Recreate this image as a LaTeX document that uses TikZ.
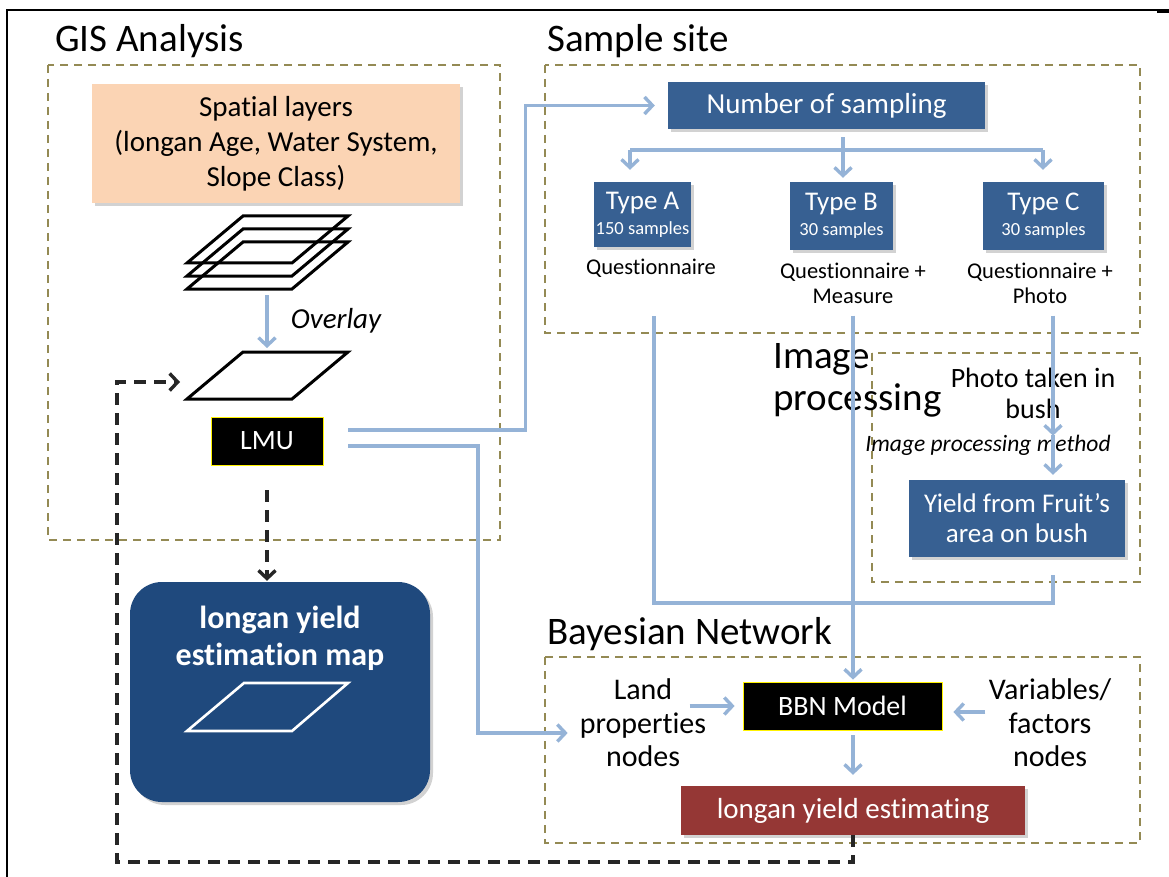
\documentclass[tikz,border=0pt]{standalone}
\usepackage{fontspec}
\setmainfont{Carlito}[Ligatures=NoCommon]
\usetikzlibrary{arrows.meta,shadows,calc}
\definecolor{grpcol}{HTML}{948A54}
\definecolor{lnblue}{HTML}{95B3D7}
\definecolor{boxblue}{HTML}{376092}
\definecolor{mapblue}{HTML}{1F497D}
\definecolor{estred}{HTML}{953735}
\definecolor{peach}{HTML}{FBD4B4}
\definecolor{dkline}{HTML}{262626}
\newcommand{\fs}[2]{\fontsize{#1}{#2}\selectfont}
\begin{document}
\begin{tikzpicture}[x=1pt,y=-1pt,
  grp/.style={draw=grpcol,line width=2pt,dash pattern=on 8pt off 6pt},
  bl/.style={draw=lnblue,line width=3.4pt},
  barb/.style={-{Straight Barb[length=8pt,width=17pt]}},
  dk/.style={draw=dkline,line width=3.4pt,dash pattern=on 12pt off 8pt},
  title/.style={anchor=base west,inner sep=0pt,font=\fs{39}{42}},
  shad/.style={drop shadow={opacity=0.35,shadow xshift=3pt,shadow yshift=-3pt}},
  bbox/.style={fill=boxblue,text=white,inner sep=0pt,align=center,shad},
  plain/.style={inner sep=0pt,align=center},
  para/.style={line width=3pt,line join=miter}
]
\useasboundingbox (0,0) rectangle (1169,877);
\fill[white] (0,0) rectangle (1169,877);

% frame
\draw[line width=1.8pt] (7,877) -- (7,10) -- (1157,10);
\draw[line width=3.4pt] (1157,11) -- (1169,11);

% group boxes
\draw[grp] (48,65) rectangle (500,540);
\draw[grp] (545,65) rectangle (1140,333);
\draw[grp] (872,353) rectangle (1140,582);
\draw[grp] (545,657) rectangle (1140,843);

% titles
\node[title] (tgis) at (55,52) {GIS Analysis};
\node[title] (tss) at (547,52) {Sample site};
\node[title,align=left,anchor=north west] (tip) at (773,343) {Image\\processing};
\node[title] (tbn) at (547,644) {Bayesian Network};

% GIS analysis
\node[fill=peach,minimum width=368pt,minimum height=119pt,plain,shad,font=\fs{29}{35}] (spatial) at (276,143.5)
  {Spatial layers\\(longan Age, Water System,\\Slope Class)};
\foreach \yb in {263,276,289}
  \draw[para] (187,\yb) -- (292,\yb) -- (348,\yb-47) -- (243,\yb-47) -- cycle;
\coordinate (layers) at (267,295);
\draw[para] (187,399) -- (292,399) -- (348,352) -- (243,352) -- cycle;
\coordinate (ovtop) at (267,352);
\coordinate (ovin) at (180,382);
\node[plain,font=\itshape\fs{29}{32}] (overlay) at (336,321) {Overlay};
\node[fill=black,draw=yellow,line width=0.8pt,text=white,minimum width=112pt,minimum height=48pt,inner sep=0pt,font=\fs{28}{30}] (lmu) at (267,441) {LMU};

% map
\node[fill=mapblue,rounded corners=32pt,minimum width=300pt,minimum height=220pt,inner sep=0pt,shad] (map) at (280,692) {};
\node[plain,text=white,font=\bfseries\fs{32}{37}] (maptxt) at (280,638) {longan yield\\estimation map};
\draw[white,line width=2.6pt] (187,731) -- (292,731) -- (348,683) -- (244,683) -- cycle;

% sample site
\node[bbox,minimum width=317pt,minimum height=47pt,font=\fs{29}{32}] (nsamp) at (826.5,105.5) {Number of sampling};
\node[bbox,minimum width=97pt,minimum height=65pt,font=\fs{18.5}{25}] (typeA) at (642.5,214.5) {{\fs{27}{25}Type A}\\150 samples};
\node[bbox,minimum width=103pt,minimum height=68pt,font=\fs{18.5}{25}] (typeB) at (841.5,216) {{\fs{27}{25}Type B}\\30 samples};
\node[bbox,minimum width=121pt,minimum height=68pt,font=\fs{18.5}{25}] (typeC) at (1043.5,216) {{\fs{27}{25}Type C}\\30 samples};
\node[plain,font=\fs{22.5}{25}] (qA) at (651,268) {Questionnaire};
\node[plain,font=\fs{22.5}{25}] (qB) at (853,283) {Questionnaire +\\Measure};
\node[plain,font=\fs{22.5}{25}] (qC) at (1040,283) {Questionnaire +\\Photo};

% image processing
\node[plain,font=\fs{28}{31}] (photo) at (1033,393) {Photo taken in\\bush};
\node[plain,font=\itshape\fs{23.5}{26}] (ipm) at (988,445) {Image processing method};
\node[bbox,minimum width=216pt,minimum height=77pt,font=\fs{27}{30}] (yield) at (1017,518.5) {Yield from Fruit’s\\area on bush};

% bayesian network
\node[plain,font=\fs{30}{33.5}] (land) at (643,723) {Land\\properties\\nodes};
\node[plain,font=\fs{30}{33.5}] (var) at (1050,723) {Variables/\\factors\\nodes};
\node[fill=black,draw=yellow,line width=0.8pt,text=white,minimum width=199pt,minimum height=48pt,inner sep=0pt,font=\fs{28}{30}] (bbn) at (842.5,706) {BBN Model};
\node[fill=estred,text=white,minimum width=344pt,minimum height=49pt,inner sep=0pt,shad,font=\fs{29}{32}] (est) at (853,810.5) {longan yield estimating};

% connectors (blue)
\draw[bl,barb] (layers) -- ([yshift=4pt]ovtop);
\draw[bl,barb,shorten <=25pt,shorten >=13pt] ([yshift=11pt]lmu.east) -- ++(202,0) |- (nsamp.west);
\coordinate (c1) at (478,446);
\draw[bl,barb,shorten <=25pt] ([yshift=-5pt]lmu.east) -| ([yshift=-10pt]c1 |- land.west) -- ([xshift=-12pt,yshift=-10pt]land.west);
\coordinate (bar) at (843,150);
\draw[bl] ([xshift=16.5pt,yshift=-8pt]nsamp.south) -- (bar);
\draw[bl,barb] ([xshift=-12.5pt]typeA.north |- bar) -- ([xshift=-12.5pt,yshift=12pt]typeA.north);
\draw[bl] ([xshift=-12.5pt]typeA.north |- bar) -- ([xshift=-0.5pt]typeC.north |- bar);
\draw[bl,barb] (bar) -- ([xshift=1.5pt,yshift=4pt]typeB.north);
\draw[bl,barb] ([xshift=-0.5pt]typeC.north |- bar) -- ([xshift=-0.5pt,yshift=12pt]typeC.north);
\coordinate (bus) at (654,603);
\draw[bl] ([xshift=3pt,yshift=-39pt]qA.south) -- (bus) -| ([xshift=36pt,yshift=-18pt]yield.south);
\draw[bl,barb] ([yshift=-12pt]qB.south) -- ([yshift=2pt]qB.south |- bbn.north);
\draw[bl,barb] ([xshift=13pt,yshift=-12pt]qC.south) -- ([xshift=13pt,yshift=-1pt]qC.south |- ipm.north);
\draw[bl,barb] ([xshift=20pt,yshift=-16pt]photo.south) -- ([xshift=36pt,yshift=5pt]yield.north);
\draw[bl,barb] ([xshift=-53pt]bbn.west) -- ([xshift=-8pt]bbn.west);
\draw[bl,barb] ([xshift=43pt,yshift=-6pt]bbn.east) -- ([xshift=11pt,yshift=-6pt]bbn.east);
\draw[bl,barb] ([yshift=-5pt]est.north |- bbn.south) -- ([yshift=11pt]est.north);

% connectors (dashed black)
\draw[dk,barb,shorten <=25pt] (lmu.south) -- ([yshift=1pt]lmu.south |- map.north);
\coordinate (lp) at (117,862);
\draw[dk,barb] (est.south) |- (lp) |- (ovin);
\end{tikzpicture}
\end{document}
